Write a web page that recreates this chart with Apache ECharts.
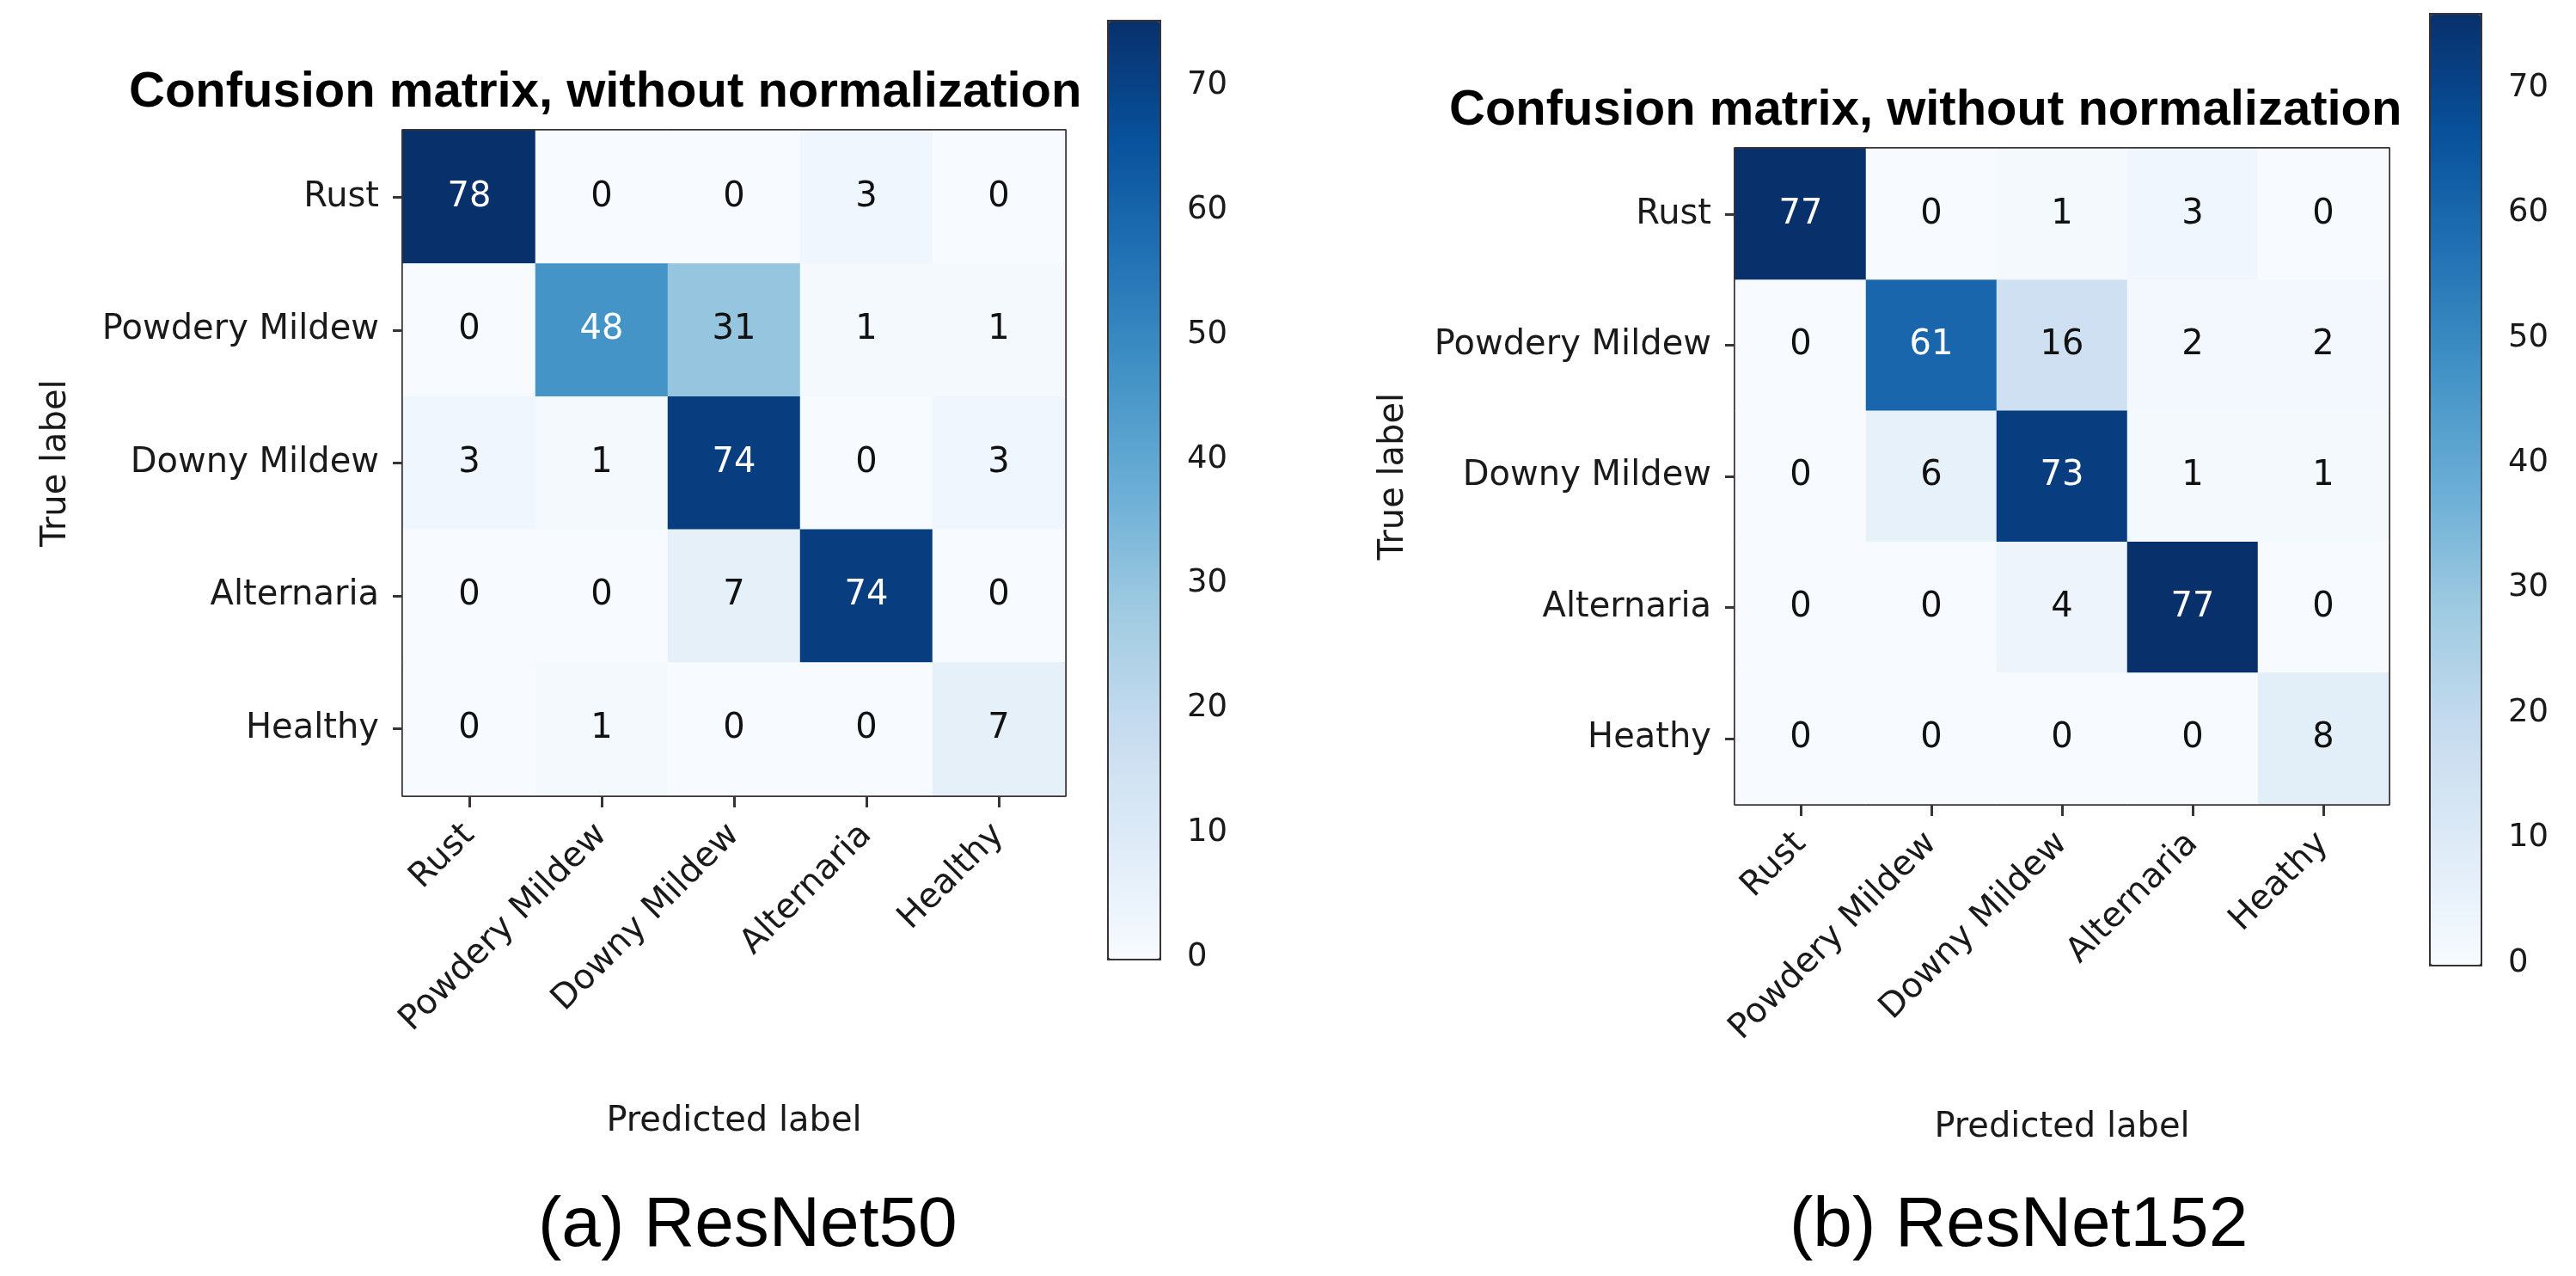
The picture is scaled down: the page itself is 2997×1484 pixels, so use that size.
<!DOCTYPE html>
<html>
<head>
<meta charset="utf-8">
<script src="https://cdn.jsdelivr.net/npm/echarts@6/dist/echarts.min.js"></script>
<style>
html,body{margin:0;padding:0;background:#fff;}
#chart{width:2997px;height:1484px;}
</style>
</head>
<body>
<div id="chart"></div>
<script>
// ---------- data ----------
const classesA = ['Rust', 'Powdery Mildew', 'Downy Mildew', 'Alternaria', 'Healthy'];
const classesB = ['Rust', 'Powdery Mildew', 'Downy Mildew', 'Alternaria', 'Heathy'];
const matrixA = [
  [78, 0, 0, 3, 0],
  [0, 48, 31, 1, 1],
  [3, 1, 74, 0, 3],
  [0, 0, 7, 74, 0],
  [0, 1, 0, 0, 7]
];
const matrixB = [
  [77, 0, 1, 3, 0],
  [0, 61, 16, 2, 2],
  [0, 6, 73, 1, 1],
  [0, 0, 4, 77, 0],
  [0, 0, 0, 0, 8]
];
const colorbarTicks = [0, 10, 20, 30, 40, 50, 60, 70];
const colorbarVisibleMax = [75.3, 76];
const titleText = 'Confusion matrix, without normalization';
const captions = ['(a) ResNet50', '(b) ResNet152'];
const xName = 'Predicted label';
const yName = 'True label';

// ---------- style ----------
const BLUES = ['#f7fbff', '#deebf7', '#c6dbef', '#9ecae1', '#6baed6', '#4292c6', '#2171b5', '#08519c', '#08306b'];
const EDGE = '#3b3333';
const TXT = '#1a1a1a';
const TICKFONT = 'DejaVu Sans';

function maxOf(m) { return Math.max(...m.map(r => Math.max(...r))); }

function heatData(m) {
  const mx = maxOf(m);
  const out = [];
  m.forEach((row, r) => row.forEach((v, c) => {
    out.push({ value: [c, r, v], label: { color: v > mx / 2 ? '#ffffff' : '#111111' } });
  }));
  return out;
}

const layout = [
  { grid: { left: 469, top: 152, width: 770, height: 773 }, cb: { left: 1288, top: 23, width: 59, height: 1090 }, yGap: 383, xGap: 360, title: { left: 150, top: 79 }, cap: { left: 626, top: 1385 } },
  { grid: { left: 2019, top: 173, width: 760, height: 762 }, cb: { left: 2826, top: 15, width: 58, height: 1105 }, yGap: 377, xGap: 357, title: { left: 1686, top: 100 }, cap: { left: 2082, top: 1385 } }
];
const classes = [classesA, classesB];
const mats = [matrixA, matrixB];

const grids = [], xAxes = [], yAxes = [], series = [], visualMaps = [], titles = [];

layout.forEach((L) => { grids.push(Object.assign({ containLabel: false }, L.grid)); });
layout.forEach((L) => { grids.push(Object.assign({ containLabel: false }, L.cb)); });

layout.forEach((L, i) => {
  const gi = i;
  xAxes.push({
    type: 'category', gridIndex: gi, data: classes[i], position: 'bottom',
    axisLine: { show: true, lineStyle: { color: EDGE, width: 4 } },
    axisTick: { show: true, alignWithLabel: true, length: 14, lineStyle: { color: EDGE, width: 3 } },
    axisLabel: { rotate: 45, margin: 40, fontFamily: TICKFONT, fontSize: 40, color: TXT, interval: 0 },
    splitLine: { show: false },
    name: xName, nameLocation: 'middle', nameGap: L.xGap,
    nameTextStyle: { fontFamily: TICKFONT, fontSize: 40, color: TXT }
  });
  xAxes.push({
    type: 'category', gridIndex: gi, data: classes[i], position: 'top',
    axisLine: { show: true, lineStyle: { color: EDGE, width: 4 } },
    axisTick: { show: false }, axisLabel: { show: false }, splitLine: { show: false }
  });
  yAxes.push({
    type: 'category', gridIndex: gi, data: classes[i], inverse: true, position: 'left',
    axisLine: { show: true, lineStyle: { color: EDGE, width: 4 } },
    axisTick: { show: true, alignWithLabel: true, length: 12, lineStyle: { color: EDGE, width: 3 } },
    axisLabel: { margin: 28, fontFamily: TICKFONT, fontSize: 40, color: TXT, interval: 0 },
    splitLine: { show: false },
    name: yName, nameLocation: 'middle', nameGap: L.yGap, nameRotate: 90,
    nameTextStyle: { fontFamily: TICKFONT, fontSize: 40, color: TXT }
  });
  yAxes.push({
    type: 'category', gridIndex: gi, data: classes[i], inverse: true, position: 'right',
    axisLine: { show: true, lineStyle: { color: EDGE, width: 4 } },
    axisTick: { show: false }, axisLabel: { show: false }, splitLine: { show: false }
  });
  series.push({
    type: 'heatmap', xAxisIndex: 2 * i, yAxisIndex: 2 * i,
    data: heatData(mats[i]),
    label: { show: true, fontFamily: TICKFONT, fontSize: 40, formatter: p => String(p.value[2]) },
    emphasis: { disabled: true },
    itemStyle: { borderWidth: 0 }
  });
  visualMaps.push({
    type: 'continuous', seriesIndex: i, min: 0, max: maxOf(mats[i]),
    inRange: { color: BLUES },
    calculable: false, hoverLink: false, show: true,
    left: L.cb.left, top: L.cb.top, itemWidth: L.cb.width, itemHeight: L.cb.height,
    padding: 0, borderWidth: 4, borderColor: EDGE, text: null
  });
  titles.push({
    text: titleText, left: L.title.left, top: L.title.top, padding: 0,
    textStyle: { fontFamily: 'Liberation Sans', fontWeight: 'bold', fontSize: 58, color: '#000', lineHeight: 58 }
  });
  titles.push({
    text: captions[i], left: L.cap.left, top: L.cap.top, padding: 0,
    textStyle: { fontFamily: 'Liberation Sans', fontWeight: 'normal', fontSize: 82, color: '#000', lineHeight: 82 }
  });
});

layout.forEach((L, i) => {
  xAxes.push({ type: 'value', gridIndex: 2 + i, show: false, min: 0, max: 1 });
  yAxes.push({
    type: 'value', gridIndex: 2 + i, position: 'right', min: 0, max: colorbarVisibleMax[i],
    axisLine: { show: false },
    axisTick: { show: true, length: 14, lineStyle: { color: EDGE, width: 3 }, customValues: colorbarTicks },
    axisLabel: { margin: 34, fontFamily: TICKFONT, fontSize: 37, color: TXT, customValues: colorbarTicks },
    splitLine: { show: false }
  });
});

const chart = echarts.init(document.getElementById('chart'), null, { renderer: 'canvas' });
chart.setOption({
  backgroundColor: '#ffffff',
  animation: false,
  title: titles,
  grid: grids,
  xAxis: xAxes,
  yAxis: yAxes,
  visualMap: visualMaps,
  series: series
});
</script>
</body>
</html>
